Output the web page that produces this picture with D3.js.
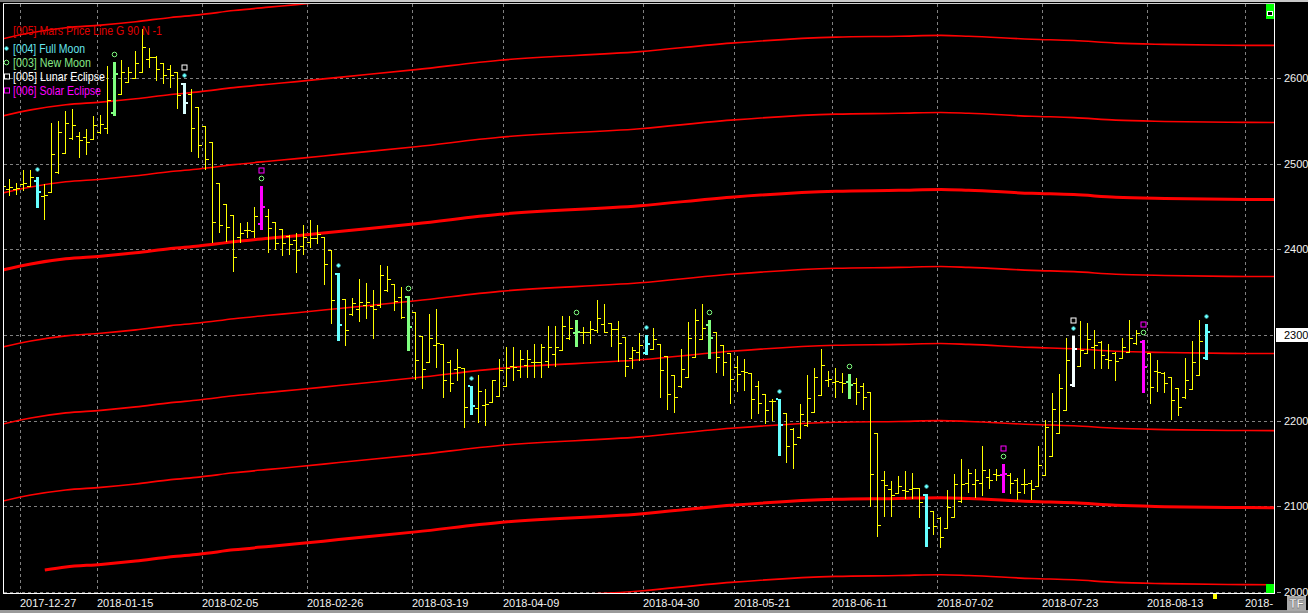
<!DOCTYPE html>
<html><head><meta charset="utf-8">
<script src="https://cdn.jsdelivr.net/npm/d3@7"></script>
<style>html,body{margin:0;padding:0;background:#000;overflow:hidden}</style>
</head><body>
<svg id="c" width="1308" height="613"></svg>
<script>
// ---- data ----
const barOpen  = [2460,2470,2470,2476,2474,2480,2462,2467,2490,2513,2530,2533,2531,2529,2537,2542,2559,2582,2596,2600,2607,2622,2625,2618,2611,2607,2593,2582,2566,2544,2525,2478,2453,2440,2415,2423,2421,2430,2439,2432,2424,2416,2411,2404,2409,2413,2415,2399,2371,2342,2325,2330,2335,2334,2335,2352,2360,2344,2344,2327,2299,2269,2288,2289,2269,2260,2261,2240,2215,2218,2222,2229,2240,2264,2259,2265,2269,2269,2270,2278,2282,2296,2302,2303,2303,2306,2313,2314,2307,2298,2273,2280,2279,2284,2290,2275,2253,2240,2251,2274,2295,2312,2303,2288,2279,2263,2258,2256,2240,2231,2223,2225,2209,2190,2181,2195,2210,2230,2248,2245,2245,2245,2244,2240,2233,2185,2131,2120,2116,2119,2120,2121,2113,2094,2086,2074,2087,2106,2127,2126,2127,2134,2138,2136,2136,2131,2126,2127,2124,2136,2159,2186,2212,2242,2264,2279,2286,2292,2272,2279,2273,2280,2291,2292,2279,2258,2256,2251,2238,2227,2237,2253,2273];
const barHigh  = [2486,2482,2478,2493,2493,2485,2476,2548,2550,2562,2564,2537,2541,2556,2557,2614,2619,2621,2613,2632,2657,2635,2626,2618,2615,2607,2594,2587,2566,2544,2525,2478,2453,2440,2431,2432,2450,2474,2447,2432,2424,2417,2419,2429,2434,2429,2415,2399,2372,2342,2343,2365,2361,2353,2382,2381,2360,2356,2345,2327,2299,2325,2330,2289,2271,2284,2261,2240,2253,2237,2248,2272,2286,2286,2282,2282,2289,2289,2311,2311,2322,2322,2317,2309,2316,2341,2336,2314,2316,2298,2286,2302,2300,2308,2290,2275,2253,2284,2315,2330,2336,2318,2303,2288,2279,2275,2272,2256,2246,2231,2225,2225,2209,2191,2219,2253,2262,2284,2258,2261,2256,2254,2250,2244,2233,2185,2141,2129,2135,2141,2139,2121,2114,2094,2087,2119,2138,2155,2143,2143,2170,2143,2144,2149,2139,2133,2144,2131,2170,2201,2232,2254,2296,2299,2316,2314,2306,2293,2289,2280,2297,2318,2306,2294,2279,2271,2257,2251,2238,2273,2293,2318,2313];
const barLow   = [2460,2463,2465,2469,2474,2449,2435,2467,2489,2513,2529,2508,2511,2529,2536,2536,2557,2582,2596,2600,2607,2613,2598,2594,2590,2565,2559,2515,2508,2494,2409,2420,2410,2375,2409,2414,2414,2424,2397,2400,2393,2395,2374,2395,2403,2408,2360,2314,2294,2288,2323,2316,2320,2297,2333,2351,2329,2320,2282,2249,2238,2269,2263,2227,2234,2247,2193,2208,2198,2195,2222,2229,2240,2247,2251,2251,2251,2251,2263,2264,2282,2295,2287,2291,2291,2304,2303,2287,2270,2252,2261,2271,2278,2284,2227,2213,2210,2239,2251,2274,2295,2273,2257,2253,2220,2234,2236,2203,2209,2197,2201,2160,2152,2145,2180,2194,2210,2230,2240,2228,2233,2226,2219,2214,2100,2065,2089,2088,2115,2109,2109,2087,2053,2068,2052,2074,2087,2105,2117,2111,2113,2121,2131,2117,2115,2108,2115,2108,2124,2136,2159,2186,2212,2240,2264,2279,2261,2261,2261,2248,2273,2280,2290,2233,2220,2235,2233,2202,2207,2226,2237,2253,2272];
const barClose = [2474,2473,2472,2478,2485,2467,2463,2512,2537,2548,2545,2528,2525,2545,2546,2575,2605,2607,2607,2618,2636,2625,2611,2604,2604,2580,2571,2542,2522,2506,2432,2428,2426,2391,2419,2423,2439,2449,2425,2408,2408,2406,2399,2415,2413,2418,2383,2341,2312,2306,2337,2338,2339,2330,2370,2366,2340,2321,2309,2271,2260,2296,2291,2247,2244,2263,2216,2217,2235,2219,2248,2259,2261,2263,2272,2272,2269,2286,2286,2286,2311,2308,2304,2303,2307,2320,2304,2307,2291,2264,2282,2288,2290,2295,2259,2231,2227,2260,2297,2318,2308,2296,2274,2269,2249,2254,2257,2225,2220,2212,2223,2195,2170,2173,2208,2226,2251,2265,2249,2246,2244,2242,2233,2228,2138,2078,2125,2113,2124,2118,2121,2105,2075,2077,2064,2099,2126,2126,2139,2131,2142,2131,2136,2138,2127,2117,2126,2120,2148,2192,2214,2238,2271,2284,2283,2295,2288,2277,2271,2270,2286,2297,2302,2263,2239,2257,2244,2224,2216,2247,2269,2293,2303];

const fullMoonIdx     = [5,26,48,67,92,111,132,153,172];
const newMoonIdx      = [16,37,58,82,101,121,143,163];
const lunarEclipseIdx = [26,153];
const solarEclipseIdx = [37,143,163];

const dateLabels   = ["2017-12-27","2018-01-15","2018-02-05","2018-02-26","2018-03-19","2018-04-09","2018-04-30","2018-05-21","2018-06-11","2018-07-02","2018-07-23","2018-08-13","2018-"];
const dateLabelIdx = [3,14,29,44,59,72,92,105,119,134,149,164,178];
const priceTicks   = [2000,2100,2200,2300,2400,2500,2600];
const lastPriceLabel = 2300;

// Mars price line (base harmonic) sampled along the bar index
const marsLineIdx  = [0,4,9,14,19,24,28,33,38,42,48,59,71,91,104,119,128,134,138,147,153,159,166,175,182];
const marsLineBase = [2376,2383,2389,2392,2396,2401,2404,2409,2413,2416,2421,2430,2441,2451,2461,2468,2469,2470,2469,2465.5,2464,2461,2459.5,2458.5,2458.3];
const marsLineHarmonics = [3,2,1,0,-1,-2,-3,-4,-5];
const marsLineFirstIdx  = [0,0,0,0,0,0,0,6,0];
const marsStep = 90;

const legendLabels = ["[005] Mars Price Line G 90 N -1","[004] Full Moon","[003] New Moon","[005] Lunar Eclipse","[006] Solar Eclipse"];
const legendColors = ["#e00000","#66e6ee","#86e886","#ffffff","#ff00ff"];
const legendMarks  = [null,"dot","circle","square","square"];
const legendWidths = [149,72,78,92,88];

// ---- layout ----
const W = 1308, H = 613;
const P = {l:3, t:3, r:1274, b:593};
const svg = d3.select("#c");
svg.append("rect").attr("width",W).attr("height",H).attr("fill","#000");
svg.append("rect").attr("x",0).attr("y",0).attr("width",180).attr("height",2).attr("fill","#7a7a7a");
svg.append("rect").attr("x",180).attr("y",0).attr("width",W-180).attr("height",2).attr("fill","#c8c8c8");
svg.append("rect").attr("x",0).attr("y",610).attr("width",W).attr("height",3).attr("fill","#9a9a9a");

const nSlots = 182;
const x = d3.scaleBand().domain(d3.range(nSlots)).range([-0.7, -0.7 + 7*nSlots]).paddingInner(0).paddingOuter(0);
const xc = i => x(0) + 7*i + 3.5;
const y = d3.scaleLinear().domain([2000,2600]).range([591.8,78.2]);

svg.append("defs").append("clipPath").attr("id","plot")
  .append("rect").attr("x",P.l+0.5).attr("y",P.t+0.5).attr("width",P.r-P.l-0.5).attr("height",P.b-P.t-0.5);

// grid
const grid = svg.append("g").attr("stroke","#808080").attr("stroke-width",1).attr("stroke-dasharray","3,3").attr("shape-rendering","crispEdges");
grid.selectAll("line.v").data(dateLabelIdx).join("line")
  .attr("x1",d=>Math.round(x(d))+0.5).attr("x2",d=>Math.round(x(d))+0.5)
  .attr("y1",P.t+1).attr("y2",P.b);
grid.selectAll("line.h").data(priceTicks).join("line")
  .attr("x1",P.l+1).attr("x2",P.r)
  .attr("y1",d=>Math.round(y(d))+0.5).attr("y2",d=>Math.round(y(d))+0.5);

const plot = svg.append("g").attr("clip-path","url(#plot)");

// Mars price lines
const baseSeries = marsLineIdx.map((d,k)=>({i:d, v:marsLineBase[k]}));
const lineGen = d3.line().x(d=>xc(d.i)).y(d=>y(d.v)).curve(d3.curveMonotoneX);
marsLineHarmonics.forEach((h,k)=>{
  const pts = baseSeries.map(p=>({i:p.i, v:p.v + h*marsStep}));
  const first = marsLineFirstIdx[k];
  const clipped = first>0 ? [{i:first, v:d3.scaleLinear().domain(marsLineIdx).range(marsLineBase)(first)+h*marsStep}].concat(pts.filter(p=>p.i>first)) : pts;
  plot.append("path")
    .attr("d", lineGen(clipped))
    .attr("fill","none").attr("stroke","#ff0000")
    .attr("stroke-width", h%4===0 ? 3 : 1.6);
});

// OHLC bars
const bars = barOpen.map((o,i)=>({i,o,h:barHigh[i],l:barLow[i],c:barClose[i]}));
function barColor(i){
  if (lunarEclipseIdx.includes(i)) return i < 100 ? "#d8ffff" : "#f4ffff";
  if (solarEclipseIdx.includes(i)) return "#ff00ff";
  if (fullMoonIdx.includes(i)) return "#66ffff";
  if (newMoonIdx.includes(i)) return "#80ff80";
  return null;
}
const gb = plot.append("g").attr("shape-rendering","crispEdges");
bars.forEach(b=>{
  const cx = Math.round(xc(b.i)-0.5);
  const yh = Math.round(y(b.h)), yl = Math.round(y(b.l));
  const yo = Math.round(y(b.o)), yc = Math.round(y(b.c));
  const col = barColor(b.i);
  if (!col){
    gb.append("rect").attr("x",cx).attr("y",yh).attr("width",1).attr("height",Math.max(1,yl-yh+1)).attr("fill","#ffff00");
    gb.append("rect").attr("x",cx-3).attr("y",yo).attr("width",3).attr("height",1).attr("fill","#ffff00");
    gb.append("rect").attr("x",cx+1).attr("y",yc).attr("width",3).attr("height",1).attr("fill","#ffff00");
  } else {
    gb.append("rect").attr("x",cx-1).attr("y",yh).attr("width",3).attr("height",Math.max(1,yl-yh+1)).attr("fill",col);
    gb.append("rect").attr("x",cx-3).attr("y",yo-1).attr("width",2).attr("height",2).attr("fill",col);
    gb.append("rect").attr("x",cx+2).attr("y",yc-1).attr("width",2).attr("height",2).attr("fill",col);
  }
});

// event markers above the bars
const gm = plot.append("g");
const dotPath = (cx,cy)=>`M${cx-2},${cy-1}h1v-1h2v1h1v2h-1v1h-2v-1h-1z`;
fullMoonIdx.forEach(i=>{
  const cx = Math.round(xc(i)-0.5)+0.5, yy = Math.round(y(barHigh[i]))-7.5;
  gm.append("path").attr("d",dotPath(cx,yy)).attr("fill","#66ffff");
});
newMoonIdx.forEach(i=>{
  const cx = Math.round(xc(i)-0.5)+0.5, yy = Math.round(y(barHigh[i]))-7.5;
  gm.append("circle").attr("cx",cx).attr("cy",yy).attr("r",2.3).attr("fill","none").attr("stroke","#80ff80").attr("stroke-width",1);
});
lunarEclipseIdx.forEach(i=>{
  const cx = Math.round(xc(i)-0.5)+0.5, yy = Math.round(y(barHigh[i]))-15.5;
  gm.append("rect").attr("x",cx-2.5).attr("y",yy-2.5).attr("width",5).attr("height",5).attr("fill","none").attr("stroke","#ffffff").attr("stroke-width",1);
});
solarEclipseIdx.forEach(i=>{
  const cx = Math.round(xc(i)-0.5)+0.5, yy = Math.round(y(barHigh[i]))-15.5;
  gm.append("rect").attr("x",cx-2.5).attr("y",yy-2.5).attr("width",5).attr("height",5).attr("fill","none").attr("stroke","#ff00ff").attr("stroke-width",1);
});

// frame
const fr = svg.append("g").attr("stroke","#ffffff").attr("stroke-width",1).attr("shape-rendering","crispEdges");
fr.append("line").attr("x1",P.l+0.5).attr("x2",P.l+0.5).attr("y1",P.t).attr("y2",P.b+1);
fr.append("line").attr("x1",P.l).attr("x2",P.r+1).attr("y1",P.b+0.5).attr("y2",P.b+0.5);
fr.append("line").attr("x1",P.r+0.5).attr("x2",P.r+0.5).attr("y1",P.t).attr("y2",P.b+1);
fr.append("line").attr("x1",P.l).attr("x2",P.r+1).attr("y1",P.t+0.5).attr("y2",P.t+0.5).attr("stroke","#d0d0d0");

// corner widgets
svg.append("rect").attr("x",1266).attr("y",4).attr("width",8).attr("height",15).attr("fill","#00ff00");
svg.append("rect").attr("x",1267.5).attr("y",11.5).attr("width",5).attr("height",4).attr("fill","#000").attr("stroke","#fff");
svg.append("rect").attr("x",1266).attr("y",584).attr("width",8).attr("height",9).attr("fill","#00ff00");
svg.append("rect").attr("x",1213).attr("y",594).attr("width",4).attr("height",5).attr("fill","#ffff00");

// x-axis labels
svg.append("g").selectAll("text").data(dateLabels).join("text")
  .attr("x",(d,k)=>Math.round(x(dateLabelIdx[k]))).attr("y",607)
  .attr("fill","#f2f2f2").attr("font-family","Liberation Sans, Arial, sans-serif").attr("font-size",11)
  .text(d=>d);

// y-axis ticks & labels
const ya = svg.append("g");
ya.selectAll("line").data(priceTicks).join("line")
  .attr("x1",1277).attr("x2",1281).attr("y1",d=>Math.round(y(d))+0.5).attr("y2",d=>Math.round(y(d))+0.5)
  .attr("stroke","#9a9a9a").attr("shape-rendering","crispEdges");
ya.selectAll("rect").data(priceTicks.filter(d=>d===lastPriceLabel)).join("rect")
  .attr("x",1276).attr("y",d=>Math.round(y(d))-7).attr("width",32).attr("height",14).attr("fill","#ffffff");
ya.selectAll("text").data(priceTicks).join("text")
  .attr("x",1284).attr("y",d=>Math.round(y(d))+4)
  .attr("fill",d=>d===lastPriceLabel?"#000":"#f2f2f2")
  .attr("font-family","Liberation Sans, Arial, sans-serif").attr("font-size",11)
  .text(d=>d);

// TF box
svg.append("rect").attr("x",1287).attr("y",596).attr("width",19).attr("height",15).attr("fill","#a8a8a8");
svg.append("text").attr("x",1296.5).attr("y",608).attr("text-anchor","middle").attr("fill","#ffffff")
  .attr("stroke","#555").attr("stroke-width",0.4)
  .attr("font-family","Liberation Sans, Arial, sans-serif").attr("font-size",12).attr("font-weight","bold").text("TF");

// legend
const lg = svg.append("g").attr("font-family","Liberation Sans, Arial, sans-serif").attr("font-size",12);
const legY = [30,48,62,76,90];
legendLabels.forEach((lab,k)=>{
  lg.append("text").attr("x",13).attr("y",legY[k]+4.5).attr("fill",legendColors[k])
    .attr("textLength",legendWidths[k]).attr("lengthAdjust","spacingAndGlyphs").text(lab);
  const my = legY[k];
  const m = legendMarks[k];
  if (m==="dot") lg.append("path").attr("d",dotPath(6.5,my+0.5)).attr("fill","#66ffff");
  if (m==="circle") lg.append("circle").attr("cx",6.5).attr("cy",my+0.5).attr("r",2.3).attr("fill","none").attr("stroke","#80ff80");
  if (m==="square") lg.append("rect").attr("x",4.5).attr("y",my-2).attr("width",5).attr("height",5).attr("fill","none").attr("stroke",legendColors[k]);
});
</script>
</body></html>
